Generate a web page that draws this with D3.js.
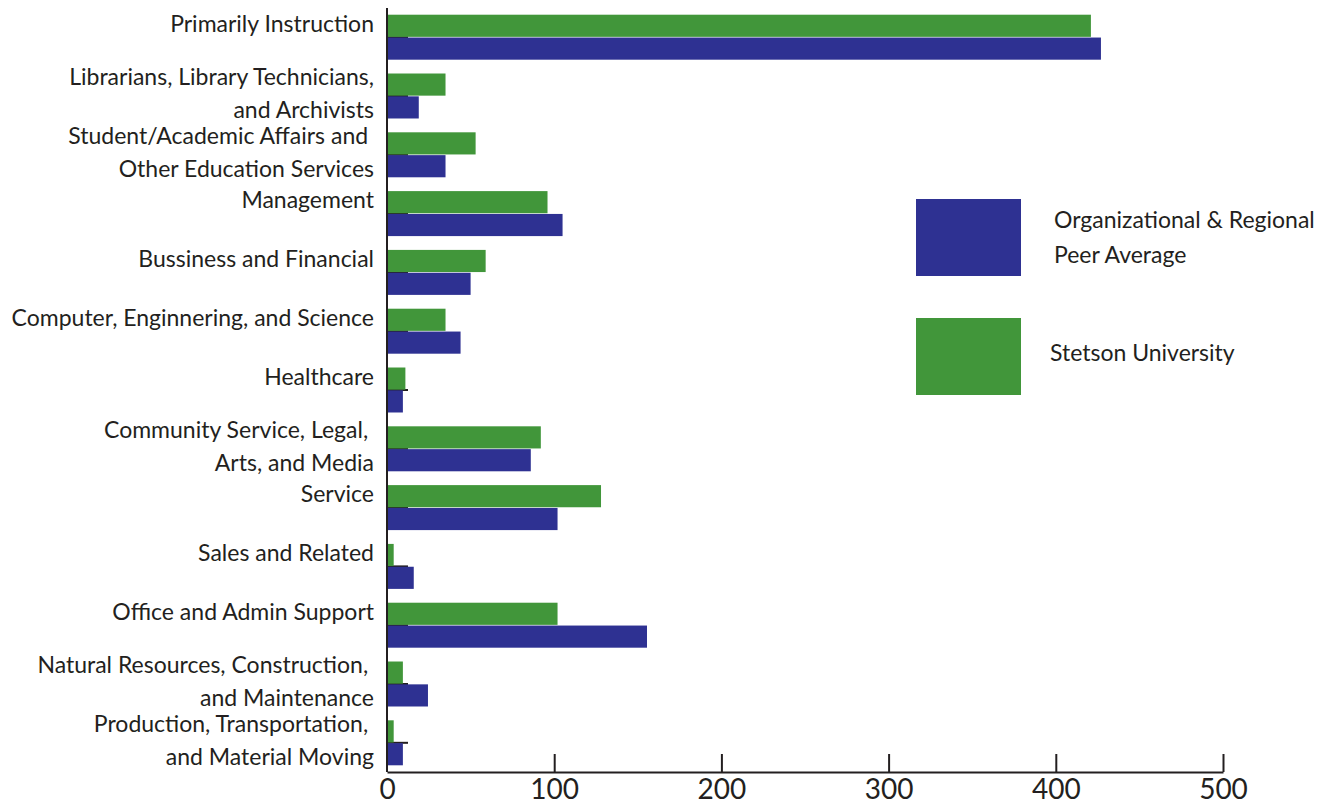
<!DOCTYPE html>
<html>
<head>
<meta charset="utf-8">
<script src="https://cdn.jsdelivr.net/npm/d3@7"></script>
<style>
  html, body { margin: 0; padding: 0; background: #fff; }
  svg { display: block; }
  text { font-family: Lato, "Open Sans", sans-serif; fill: #231f20; }
</style>
</head>
<body>
<svg id="chart" width="1325" height="804"></svg>
<script>
// Occupational categories (label lines), top to bottom
const categories = [
  ["Primarily Instruction"],
  ["Librarians, Library Technicians,", "and Archivists"],
  ["Student/Academic Affairs and ", "Other Education Services"],
  ["Management"],
  ["Bussiness and Financial"],
  ["Computer, Enginnering, and Science"],
  ["Healthcare"],
  ["Community Service, Legal, ", "Arts, and Media"],
  ["Service"],
  ["Sales and Related"],
  ["Office and Admin Support"],
  ["Natural Resources, Construction, ", "and Maintenance"],
  ["Production, Transportation, ", "and Material Moving"]
];

// Staff counts per category
const stetsonValues = [421, 35, 53, 96, 59, 35, 11, 92, 128, 4, 102, 9.5, 4];
const peerValues    = [427, 19, 35, 105, 50, 44, 9.5, 86, 102, 16, 155.5, 24.5, 9.5];

const seriesNames = ["Stetson University", "Organizational & Regional Peer Average"];
const xTicks = [0, 100, 200, 300, 400, 500];

const colors = { "Stetson University": "#41963a", "Organizational & Regional Peer Average": "#2e3192" };

const svg = d3.select("#chart");
const ink = "#231f20";

const x = d3.scaleLinear().domain([0, 500]).range([387, 1223]);
const keys = categories.map(c => c.join(" "));
const y = d3.scaleBand().domain(keys).range([8, 772]).paddingInner(0.235).paddingOuter(0.114);
const ySub = d3.scaleBand().domain(seriesNames).range([0, y.bandwidth()]).paddingInner(0.03);

const rows = keys.map((k, i) => ({ key: k, lines: categories[i], values: [stetsonValues[i], peerValues[i]] }));

// short inward ticks at each category centre, behind the bars
svg.append("g").selectAll("line").data(rows).join("line")
  .attr("x1", x(0)).attr("x2", x(0) + 21)
  .attr("y1", d => y(d.key) + y.bandwidth() / 2)
  .attr("y2", d => y(d.key) + y.bandwidth() / 2)
  .attr("stroke", ink).attr("stroke-width", 2);

// grouped bars
const groups = svg.append("g").selectAll("g").data(rows).join("g")
  .attr("transform", d => `translate(0,${y(d.key)})`);
groups.selectAll("rect")
  .data(d => seriesNames.map((s, j) => ({ s, v: d.values[j] })))
  .join("rect")
  .attr("x", x(0))
  .attr("y", d => ySub(d.s))
  .attr("width", d => x(d.v) - x(0))
  .attr("height", ySub.bandwidth())
  .attr("fill", d => colors[d.s]);

// category labels
const labels = svg.append("g").selectAll("text").data(rows).join("text")
  .attr("text-anchor", "end")
  .attr("font-size", 23);
labels.each(function(d) {
  const t = d3.select(this);
  const cy = y(d.key) + y.bandwidth() / 2;
  const n = d.lines.length;
  const lh = 32.5;
  const start = n === 1 ? cy - 13.5 : cy - 2.5 - lh / 2;
  d.lines.forEach((ln, i) => {
    t.append("tspan").attr("x", 374).attr("y", start + i * lh).attr("dy", "0.35em").text(ln);
  });
});

// y axis line
svg.append("line")
  .attr("x1", x(0)).attr("x2", x(0))
  .attr("y1", 8).attr("y2", 772)
  .attr("stroke", ink).attr("stroke-width", 2);

// x axis with upward ticks
const xAxis = d3.axisBottom(x).tickValues(xTicks).tickSize(-18).tickSizeOuter(0).tickPadding(10)
  .tickFormat(d3.format("d"));
const gx = svg.append("g").attr("transform", "translate(0,772)").call(xAxis);
gx.select(".domain").attr("stroke", ink).attr("stroke-width", 2);
gx.selectAll(".tick line").attr("stroke", ink).attr("stroke-width", 2);
gx.selectAll(".tick text").attr("font-size", 28).attr("font-family", "Lato, sans-serif")
  .attr("fill", ink).attr("dy", "0.6em");
gx.selectAll(".tick").filter(d => d === 0).select("line").remove();

// legend
const legendItems = [
  { name: "Organizational & Regional Peer Average", lines: ["Organizational & Regional", "Peer Average"], y: 199, tx: 1054 },
  { name: "Stetson University", lines: ["Stetson University"], y: 318, tx: 1050 }
];
const lg = svg.append("g").selectAll("g").data(legendItems).join("g");
lg.append("rect")
  .attr("x", 916).attr("y", d => d.y).attr("width", 105).attr("height", 77)
  .attr("fill", d => colors[d.name]);
lg.append("text").attr("font-size", 23).each(function(d) {
  const t = d3.select(this);
  const cy = d.y + 38.5;
  const lh = 35;
  const start = cy - (d.lines.length - 1) * lh / 2 - (d.lines.length === 1 ? 4 : 0);
  d.lines.forEach((ln, i) => {
    t.append("tspan").attr("x", d.tx).attr("y", start + i * lh).attr("dy", "0.35em").text(ln);
  });
});
</script>
</body>
</html>
